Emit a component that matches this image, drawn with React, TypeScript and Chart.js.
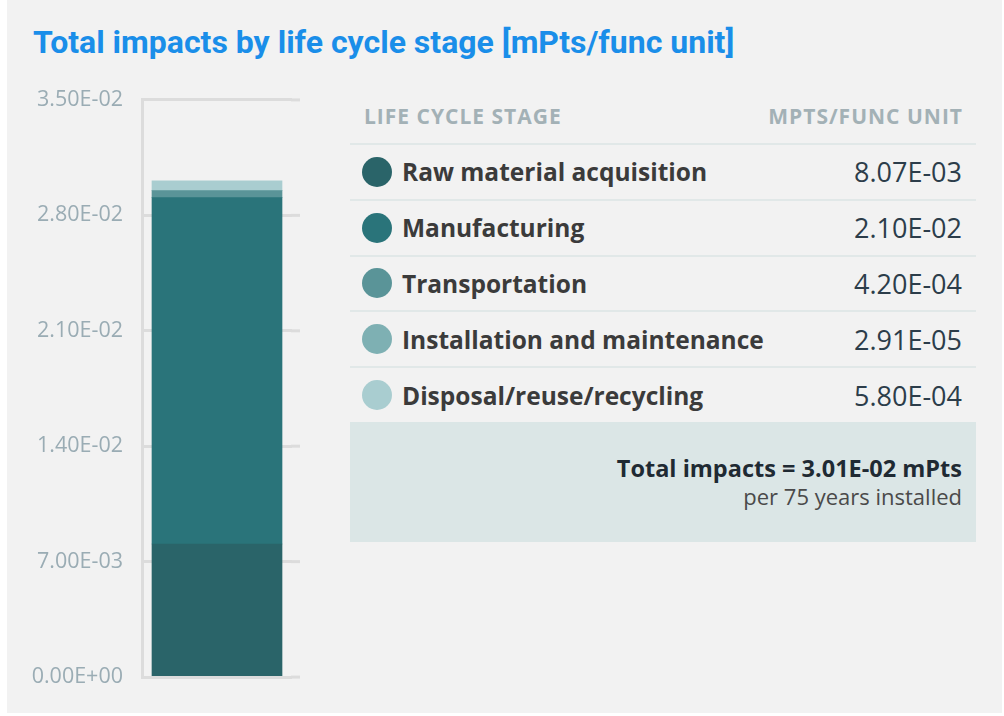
import React, { useEffect, useRef } from "react";
import { Chart, registerables } from "chart.js";

Chart.register(...registerables);

const stages = [
  "Raw material acquisition",
  "Manufacturing",
  "Transportation",
  "Installation and maintenance",
  "Disposal/reuse/recycling",
];
const stageValues = [8.07e-3, 2.1e-2, 4.2e-4, 2.91e-5, 5.8e-4];
const stageValueLabels = ["8.07E-03", "2.10E-02", "4.20E-04", "2.91E-05", "5.80E-04"];
const stageColors = ["#2a6469", "#2a747a", "#5a9498", "#7eb0b3", "#a9cdd0"];
const yTickValues = [0, 0.007, 0.014, 0.021, 0.028, 0.035];
const yTickLabels = ["0.00E+00", "7.00E-03", "1.40E-02", "2.10E-02", "2.80E-02", "3.50E-02"];
const categories = ["Total"];
const totalLabel = "3.01E-02";
const titleText = "Total impacts by life cycle stage [mPts/func unit]";

const GRID = "#dcdcdc";

const gridExtension = {
  id: "gridExtension",
  beforeDatasetsDraw(chart: any) {
    const { ctx, chartArea, scales } = chart;
    const y = scales.y;
    ctx.save();
    ctx.strokeStyle = GRID;
    ctx.lineWidth = 3;
    y.ticks.forEach((t: any) => {
      const py = y.getPixelForValue(t.value);
      ctx.beginPath();
      ctx.moveTo(chartArea.right - 1, py);
      ctx.lineTo(chartArea.right + 8, py);
      ctx.stroke();
    });
    ctx.restore();
  },
};

function BarChart() {
  const ref = useRef<HTMLCanvasElement | null>(null);
  useEffect(() => {
    if (!ref.current) return;
    const chart = new Chart(ref.current, {
      type: "bar",
      data: {
        labels: categories,
        datasets: stages.map((s, i) => ({
          label: s,
          data: [stageValues[i]],
          backgroundColor: stageColors[i],
          borderWidth: 0,
          barThickness: 130,
        })),
      },
      plugins: [gridExtension],
      options: {
        animation: false,
        responsive: true,
        maintainAspectRatio: false,
        layout: { padding: { top: 0, bottom: 0, right: 28, left: 0 } },
        plugins: { legend: { display: false }, tooltip: { enabled: false } },
        scales: {
          x: { stacked: true, display: false },
          y: {
            stacked: true,
            min: 0,
            max: 0.035,
            afterBuildTicks: (scale: any) => {
              scale.ticks = yTickValues.map((v) => ({ value: v }));
            },
            afterFit: (scale: any) => {
              scale.width = 122;
            },
            grid: { color: GRID, lineWidth: 3, drawTicks: false },
            border: { display: true, color: GRID, width: 3 },
            ticks: {
              padding: 19,
              color: "#9aacb4",
              font: { family: "'Open Sans'", size: 21.5 },
              callback: (_v: any, idx: number) => yTickLabels[idx],
            },
          },
        },
      },
    });
    return () => chart.destroy();
  }, []);
  return (
    <div style={{ position: "absolute", left: 20, top: 68, width: 300, height: 641 }}>
      <canvas ref={ref} />
    </div>
  );
}

export default function App() {
  const rowH = 55.8;
  return (
    <div
      style={{
        position: "absolute",
        left: 7,
        top: 0,
        width: 995,
        height: 713,
        background: "#f2f2f2",
        fontFamily: "'Open Sans', sans-serif",
      }}
    >
      <div
        style={{
          position: "absolute",
          left: 26,
          top: 24,
          fontFamily: "Roboto",
          fontWeight: 700,
          fontSize: 32,
          lineHeight: "36px",
          color: "#1a8ee9",
          whiteSpace: "nowrap",
        }}
      >
        {titleText}
      </div>
      <div style={{ position: "absolute", left: -7, top: 0, width: 1004, height: 716 }}>
        <BarChart />
      </div>
      <div style={{ position: "absolute", left: 343, top: 88, width: 626 }}>
        <div
          style={{
            height: 55,
            display: "flex",
            alignItems: "center",
            justifyContent: "space-between",
            padding: "0 14px",
            color: "#a3b1b6",
            fontWeight: 700,
            fontSize: 21,
            letterSpacing: 1,
            boxSizing: "border-box",
          }}
        >
          <span>LIFE CYCLE STAGE</span>
          <span style={{ marginRight: -1 }}>MPTS/FUNC UNIT</span>
        </div>
        {stages.map((s, i) => (
          <div
            key={s}
            style={{
              height: rowH,
              borderTop: "2px solid #e1e8e8",
              boxSizing: "border-box",
              display: "flex",
              alignItems: "center",
              padding: "0 14px 0 12px",
            }}
          >
            <div
              style={{
                width: 30,
                height: 30,
                borderRadius: "50%",
                background: stageColors[i],
                marginRight: 10,
                flex: "0 0 auto",
              }}
            />
            <div style={{ fontWeight: 700, fontSize: 24.5, color: "#3b3b3b", flex: 1, whiteSpace: "nowrap" }}>{s}</div>
            <div style={{ fontSize: 27, color: "#2c3d4a", whiteSpace: "nowrap" }}>{stageValueLabels[i]}</div>
          </div>
        ))}
        <div
          style={{
            height: 120,
            background: "#dbe6e6",
            boxSizing: "border-box",
            padding: "32px 14px 0 0",
            textAlign: "right",
          }}
        >
          <div style={{ fontWeight: 700, fontSize: 23.5, color: "#1f2a33", lineHeight: "28px" }}>
            Total impacts = {totalLabel} mPts
          </div>
          <div style={{ fontSize: 22, color: "#4a4a4a", lineHeight: "28px" }}>per 75 years installed</div>
        </div>
      </div>
    </div>
  );
}
